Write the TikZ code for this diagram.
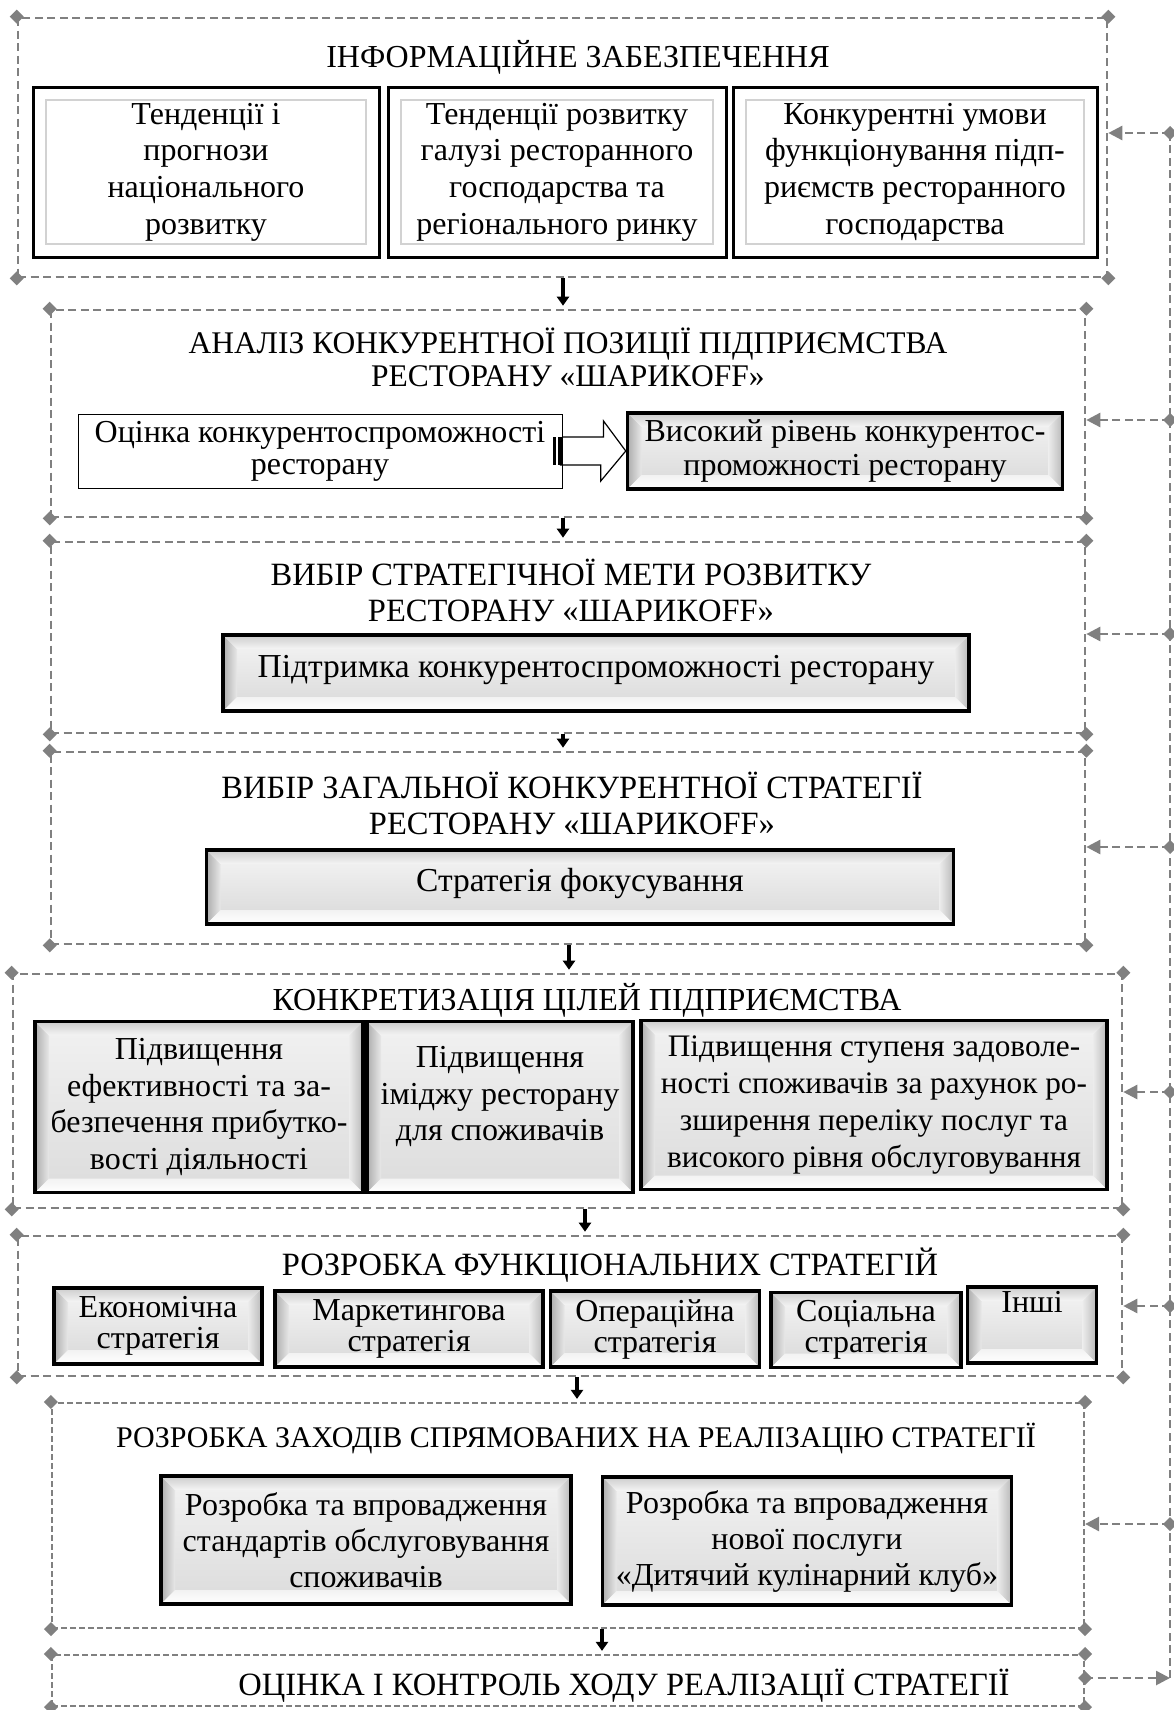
\documentclass[tikz,border=0pt]{standalone}
\usepackage{fontspec}
\setmainfont{Liberation Serif}
\usetikzlibrary{positioning}
\usetikzlibrary{arrows.meta}
\usetikzlibrary{fit}
\definecolor{linegray}{rgb}{0.5,0.5,0.5}

\tikzset{
  stage/.style={draw=linegray, line width=2.6pt, dash pattern=on 8pt off 4.5pt, inner sep=0pt},
  finestage/.style={stage, line width=2.2pt, dash pattern=on 6pt off 3pt},
  feed/.style={draw=linegray, line width=2.6pt, dash pattern=on 8pt off 4.5pt},
  feedarrow/.style={feed, -{Triangle[length=14pt,width=14pt]}},
  down/.style={line width=4pt, -{Triangle[length=9pt,width=12pt]}, shorten >=3pt},
  heading/.style={inner sep=0pt, align=center},
  plainbox/.style={draw, line width=1pt, fill=white, align=center, inner sep=0pt},
  infobox/.style={draw, line width=3pt, fill=white, align=center, inner sep=0pt,
    path picture={
      \draw[gray!35, line width=1.6pt]
        ([shift={(13pt,13pt)}]path picture bounding box.south west) rectangle
        ([shift={(-13pt,-13pt)}]path picture bounding box.north east);
    }},
  bevel/.style={draw, line width=3.5pt, fill=gray!20, align=center, inner sep=0pt,
    path picture={
      \path (path picture bounding box.south west) coordinate (sw)
            (path picture bounding box.north east) coordinate (ne)
            (path picture bounding box.north west) coordinate (nw)
            (path picture bounding box.south east) coordinate (se);
      \shade[top color=gray!12, bottom color=gray!26]
        ([shift={(14pt,14pt)}]sw) rectangle ([shift={(-14pt,-14pt)}]ne);
      \shade[left color=gray!65, right color=gray!18]
        (sw) -- (nw) -- ([shift={(14pt,-14pt)}]nw) -- ([shift={(14pt,14pt)}]sw) -- cycle;
      \shade[left color=gray!15, right color=gray!55]
        (se) -- (ne) -- ([shift={(-14pt,-14pt)}]ne) -- ([shift={(-14pt,14pt)}]se) -- cycle;
      \shade[top color=gray!40, bottom color=gray!8]
        (nw) -- (ne) -- ([shift={(-14pt,-14pt)}]ne) -- ([shift={(14pt,-14pt)}]nw) -- cycle;
      \shade[top color=gray!10, bottom color=white]
        (sw) -- (se) -- ([shift={(-14pt,14pt)}]se) -- ([shift={(14pt,14pt)}]sw) -- cycle;
    }},
}

% gray diamond on a corner
\newcommand\dmd[1]{\fill[linegray] (#1) +(-7pt,0) -- +(0,7pt) -- +(7pt,0) -- +(0,-7pt) -- cycle;}
\newcommand\fsz[2]{\fontsize{#1pt}{#2pt}\selectfont}

\begin{document}
\begin{tikzpicture}[x=1pt, y=-1pt, font=\fsz{32}{36.7}]

  \fill[white] (0,0) rectangle (1174,1710);
  \useasboundingbox (0,0) rectangle (1174,1710);

  % stages
  \node[stage, fit={(18,18) (1107,277)}] (info) {};
  \node[stage, fit={(51,310) (1085,517)}] (analysis) {};
  \node[stage, fit={(51,542) (1085,733)}] (goal) {};
  \node[stage, fit={(51,752) (1085,944)}] (generic) {};
  \node[stage, fit={(13,974) (1122,1208)}] (targets) {};
  \node[stage, fit={(18,1236) (1122,1376)}] (functional) {};
  \node[finestage, fit={(52,1403) (1084,1628)}] (measures) {};
  \node[finestage, fit={(52,1655) (1084,1706)}] (control) {};

  % feedback loop
  \coordinate (fbtop) at (1170,133);
  \coordinate (fbbot) at (1170,1678);
  \draw[feed] (fbbot) -- (fbtop);
  \draw[feedarrow] (control.east |- fbbot) -- (fbbot);
  \foreach \f/\y in {info/133, analysis/420, goal/634, generic/847,
                     targets/1092, functional/1306, measures/1524} {
    \draw[feedarrow] (fbtop |- 0,\y) -- (\f.east |- 0,\y);
    \dmd{fbtop |- 0,\y}
  }
  \dmd{control.east |- fbbot}

  \foreach \f in {info,analysis,goal,generic,targets,functional,measures,control}
    \foreach \a in {north west,north east,south west,south east} {
      \dmd{\f.\a}
    }

  % arrows between stages
  \foreach \a/\b/\x in {info/analysis/563, analysis/goal/563, goal/generic/563,
                        generic/targets/569, targets/functional/585,
                        functional/measures/577, measures/control/602}
    \draw[down] (\x,0 |- \a.south) -- (\x,0 |- \b.north);

  % information
  \node[heading, anchor=base] (t-info) at (578,67) {ІНФОРМАЦІЙНЕ ЗАБЕЗПЕЧЕННЯ};
  \node[infobox, minimum width=346pt, minimum height=170pt] (trends) at (206,172)
    {Тенденції і\\прогнози\\національного\\розвитку};
  \node[infobox, minimum width=338pt, minimum height=170pt] (branch) at (557,172)
    {Тенденції розвитку\\галузі ресторанного\\господарства та\\регіонального ринку};
  \node[infobox, minimum width=364pt, minimum height=170pt] (rivals) at (915,172)
    {Конкурентні умови\\функціонування підп-\\риємств ресторанного\\господарства};

  % analysis
  \node[heading, anchor=north, font=\fsz{31.5}{33}] (t-analysis) at (568,328)
    {АНАЛІЗ КОНКУРЕНТНОЇ ПОЗИЦІЇ ПІДПРИЄМСТВА\\РЕСТОРАНУ «ШАРИКOFF»};
  \node[plainbox, minimum width=484pt, minimum height=74pt, font=\fsz{32}{32}] (assess) at (320,451)
    {Оцінка конкурентоспроможності\\ресторану};
  \node[bevel, minimum width=435pt, minimum height=76pt, font=\fsz{32}{34}] (high) at (845,451)
    {Високий рівень конкурентос-\\проможності ресторану};
  \fill ([xshift=-10pt,yshift=14pt]assess.east) rectangle ([xshift=-6.5pt,yshift=-14pt]assess.east);
  \fill ([xshift=-4.5pt,yshift=14pt]assess.east) rectangle ([xshift=-1pt,yshift=-14pt]assess.east);
  \draw[line width=1.2pt] ([yshift=14pt]assess.east) -- ++(41pt,0) -- ++(0,16pt)
    -- (high.west) -- ++(-25pt,-30pt) -- ++(0,16pt) -- ++(-41pt,0);

  % strategic goal
  \node[heading, anchor=north, font=\fsz{32.5}{36}] (t-goal) at (571,559)
    {ВИБІР СТРАТЕГІЧНОЇ МЕТИ РОЗВИТКУ\\РЕСТОРАНУ «ШАРИКOFF»};
  \node[bevel, minimum width=746pt, minimum height=76pt, text depth=14pt, font=\fsz{33.5}{36}] (support) at (596,673)
    {Підтримка конкурентоспроможності ресторану};

  % generic strategy
  \node[heading, anchor=north, font=\fsz{32.5}{36}] (t-generic) at (572,772)
    {ВИБІР ЗАГАЛЬНОЇ КОНКУРЕНТНОЇ СТРАТЕГІЇ\\РЕСТОРАНУ «ШАРИКOFF»};
  \node[bevel, minimum width=747pt, minimum height=74pt, text depth=14pt, font=\fsz{33.5}{36}] (focus) at (580,887)
    {Стратегія фокусування};

  % objectives
  \node[heading, anchor=base] (t-targets) at (587,1010) {КОНКРЕТИЗАЦІЯ ЦІЛЕЙ ПІДПРИЄМСТВА};
  \node[bevel, minimum width=328pt, minimum height=171pt] (g-eff) at (199,1107)
    {Підвищення\\ефективності та за-\\безпечення прибутко-\\вості діяльності};
  \node[bevel, minimum width=266pt, minimum height=171pt] (g-image) at (500,1107)
    {Підвищення\\іміджу ресторану\\для споживачів\\[-10pt]\mbox{}};
  \node[bevel, minimum width=466pt, minimum height=169pt, font=\fsz{31.3}{36.7}] (g-sat) at (874,1105)
    {Підвищення ступеня задоволе-\\ності споживачів за рахунок ро-\\зширення переліку послуг та\\високого рівня обслуговування};

  % functional strategies
  \node[heading, anchor=base, font=\fsz{32.5}{36}] (t-functional) at (610,1275) {РОЗРОБКА ФУНКЦІОНАЛЬНИХ СТРАТЕГІЙ};
  \begin{scope}[every node/.append style={font=\fsz{32}{31}}]
    \node[bevel, minimum width=208pt, minimum height=76pt] (s-econ) at (158,1326) {Економічна\\стратегія};
    \node[bevel, minimum width=268pt, minimum height=76pt] (s-mark) at (409,1329) {Маркетингова\\стратегія};
    \node[bevel, minimum width=209pt, minimum height=76pt] (s-oper) at (655,1329) {Операційна\\стратегія};
    \node[bevel, minimum width=190pt, minimum height=75pt] (s-soc) at (866,1330) {Соціальна\\стратегія};
    \node[bevel, minimum width=129pt, minimum height=76pt, text depth=46pt] (s-other) at (1032,1325) {Інші};
  \end{scope}

  % measures
  \node[heading, anchor=base, font=\fsz{30}{36}] (t-measures) at (576,1447)
    {РОЗРОБКА ЗАХОДІВ СПРЯМОВАНИХ НА РЕАЛІЗАЦІЮ СТРАТЕГІЇ};
  \node[bevel, minimum width=410pt, minimum height=128pt, font=\fsz{32}{36}] (m-std) at (366,1540)
    {Розробка та впровадження\\стандартів обслуговування\\споживачів};
  \node[bevel, minimum width=409pt, minimum height=128pt, font=\fsz{32}{36}] (m-club) at (807,1541)
    {Розробка та впровадження\\нової послуги\\«Дитячий кулінарний клуб»};

  % control
  \node[heading, anchor=base, font=\fsz{32.5}{36}] (t-control) at (624,1695)
    {ОЦІНКА І КОНТРОЛЬ ХОДУ РЕАЛІЗАЦІЇ СТРАТЕГІЇ};

\end{tikzpicture}
\end{document}
